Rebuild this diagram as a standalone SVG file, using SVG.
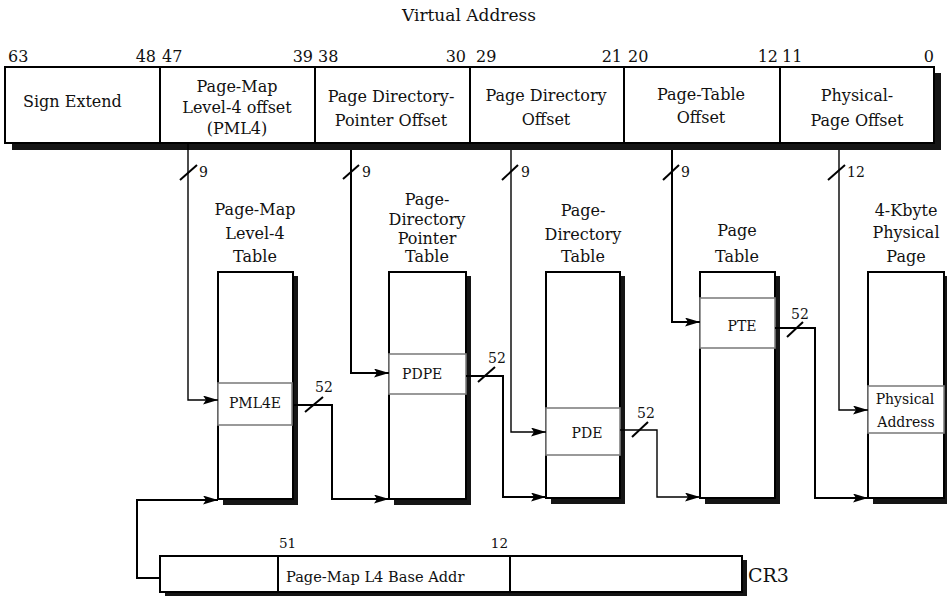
<svg xmlns="http://www.w3.org/2000/svg" width="947" height="596" viewBox="0 0 947 596">
<style>
text{font-family:"DejaVu Serif","Liberation Serif",serif;fill:#111}
.t16{font-size:16px}
.t17{font-size:17px}
.t14{font-size:14px}
.t13{font-size:13.5px}
.t12{font-size:14px}
.mid{text-anchor:middle}
.end{text-anchor:end}
.box{fill:#fff;stroke:#000;stroke-width:2}
.shadow{fill:#151515}
.entry{fill:#fff;stroke:#808080;stroke-width:1.6}
.div{stroke:#000;stroke-width:2}
.thin{fill:none;stroke:#000;stroke-width:1.4}
.thick{fill:none;stroke:#000;stroke-width:2}
.slash{stroke:#000;stroke-width:2}
</style>
<defs>
<marker id="ah" markerUnits="userSpaceOnUse" markerWidth="16" markerHeight="9" refX="15" refY="4.5" orient="auto">
<path d="M0,0 L15,4.5 L0,9 L3,4.5 z" fill="#000"/>
</marker>
</defs>
<rect width="947" height="596" fill="#fff"/>

<text class="t17" x="402" y="21">Virtual Address</text>

<g id="virtual-address">
<rect class="shadow" x="12" y="73" width="929" height="77"/>
<rect class="box" x="5" y="67" width="929" height="76"/>
<line class="div" x1="160" y1="67" x2="160" y2="143"/>
<line class="div" x1="315" y1="67" x2="315" y2="143"/>
<line class="div" x1="470" y1="67" x2="470" y2="143"/>
<line class="div" x1="624" y1="67" x2="624" y2="143"/>
<line class="div" x1="780" y1="67" x2="780" y2="143"/>
<text class="t16" x="8" y="62">63</text>
<text class="t16 end" x="156" y="62">48</text>
<text class="t16" x="162" y="62">47</text>
<text class="t16 end" x="313" y="62">39</text>
<text class="t16" x="318" y="62">38</text>
<text class="t16 end" x="466" y="62">30</text>
<text class="t16" x="476" y="62">29</text>
<text class="t16 end" x="622" y="62">21</text>
<text class="t16" x="628" y="62">20</text>
<text class="t16 end" x="778" y="62">12</text>
<text class="t16" x="782" y="62">11</text>
<text class="t16 end" x="934" y="62">0</text>
<text class="t16" x="23" y="107">Sign Extend</text>
<text class="t16 mid" x="237" y="92">Page-Map</text>
<text class="t16 mid" x="237" y="113">Level-4 offset</text>
<text class="t16 mid" x="237" y="134">(PML4)</text>
<text class="t16 mid" x="391" y="102">Page Directory-</text>
<text class="t16 mid" x="391" y="126">Pointer Offset</text>
<text class="t16 mid" x="546" y="101">Page Directory</text>
<text class="t16 mid" x="546" y="125">Offset</text>
<text class="t16 mid" x="701" y="100">Page-Table</text>
<text class="t16 mid" x="701" y="123">Offset</text>
<text class="t16 mid" x="857" y="101">Physical-</text>
<text class="t16 mid" x="857" y="126">Page Offset</text>
</g>

<g id="pml4-table">
<text class="t16 mid" x="255" y="215">Page-Map</text>
<text class="t16 mid" x="255" y="239">Level-4</text>
<text class="t16 mid" x="255" y="262">Table</text>
<rect class="shadow" x="223" y="276" width="75" height="229"/>
<rect class="box" x="218" y="272" width="75" height="227"/>
<rect class="entry" x="218" y="383" width="74" height="42"/>
<text class="t14 mid" x="255" y="408">PML4E</text>
</g>

<g id="pdp-table">
<text class="t16 mid" x="427" y="205">Page-</text>
<text class="t16 mid" x="427" y="225">Directory</text>
<text class="t16 mid" x="427" y="244">Pointer</text>
<text class="t16 mid" x="427" y="262">Table</text>
<rect class="shadow" x="394" y="276" width="77" height="229"/>
<rect class="box" x="389" y="272" width="77" height="227"/>
<rect class="entry" x="389" y="354" width="77" height="40"/>
<text class="t14" x="402" y="379">PDPE</text>
</g>

<g id="pd-table">
<text class="t16 mid" x="583" y="216">Page-</text>
<text class="t16 mid" x="583" y="240">Directory</text>
<text class="t16 mid" x="583" y="262">Table</text>
<rect class="shadow" x="551" y="276" width="74" height="228"/>
<rect class="box" x="546" y="272" width="74" height="226"/>
<rect class="entry" x="546" y="408" width="74" height="47"/>
<text class="t14 mid" x="587" y="438">PDE</text>
</g>

<g id="page-table">
<text class="t16 mid" x="737" y="236">Page</text>
<text class="t16 mid" x="737" y="262">Table</text>
<rect class="shadow" x="705" y="276" width="75" height="228"/>
<rect class="box" x="700" y="272" width="75" height="226"/>
<rect class="entry" x="700" y="298" width="75" height="50"/>
<text class="t14 mid" x="742" y="331">PTE</text>
</g>

<g id="physical-page">
<text class="t16 mid" x="906" y="216">4-Kbyte</text>
<text class="t16 mid" x="906" y="238">Physical</text>
<text class="t16 mid" x="906" y="262">Page</text>
<rect class="shadow" x="873" y="276" width="76" height="228"/>
<rect class="box" x="868" y="272" width="76" height="226"/>
<rect class="entry" x="868" y="386" width="76" height="47"/>
<text class="t14 mid" x="905" y="404">Physical</text>
<text class="t14 mid" x="906" y="427">Address</text>
</g>

<g id="cr3">
<rect class="shadow" x="165" y="560" width="582" height="36"/>
<rect class="box" x="160" y="556" width="582" height="36"/>
<line class="div" x1="278" y1="556" x2="278" y2="592"/>
<line class="div" x1="510" y1="556" x2="510" y2="592"/>
<text class="t13" x="279" y="548">51</text>
<text class="t13 end" x="508" y="548">12</text>
<text class="t14" x="286" y="582" style="font-size:14.6px">Page-Map L4 Base Addr</text>
<text class="t16" x="748" y="582" style="font-size:19px">CR3</text>
</g>

<g id="connectors">
<polyline class="thin" points="188,143 188,400 218,400" marker-end="url(#ah)"/>
<polyline class="thick" points="351,150 351,373 389,373" marker-end="url(#ah)"/>
<polyline class="thin" points="511,150 511,432 546,432" marker-end="url(#ah)"/>
<polyline class="thick" points="672,150 672,322 700,322" marker-end="url(#ah)"/>
<polyline class="thin" points="839,150 839,410 868,410" marker-end="url(#ah)"/>

<polyline class="thick" points="293,405 332,405 332,499 389,499" marker-end="url(#ah)"/>
<polyline class="thick" points="466,376 503,376 503,497 546,497" marker-end="url(#ah)"/>
<polyline class="thin" points="620,430 657,430 657,497 700,497" marker-end="url(#ah)"/>
<polyline class="thick" points="775,328 815,328 815,498 868,498" marker-end="url(#ah)"/>
<polyline class="thick" points="160,578 137,578 137,500 218,500" marker-end="url(#ah)"/>

<line class="slash" x1="180" y1="180" x2="197" y2="165"/>
<line class="slash" x1="343" y1="179" x2="359" y2="165"/>
<line class="slash" x1="502" y1="180" x2="518" y2="165"/>
<line class="slash" x1="663" y1="180" x2="679" y2="165"/>
<line class="slash" x1="828" y1="180" x2="845" y2="165"/>
<text class="t12" x="199" y="177">9</text>
<text class="t12" x="362" y="177">9</text>
<text class="t12" x="521" y="177">9</text>
<text class="t12" x="681" y="177">9</text>
<text class="t12" x="847" y="177">12</text>

<line class="slash" x1="305" y1="412" x2="323" y2="397"/>
<line class="slash" x1="478" y1="382" x2="495" y2="367"/>
<line class="slash" x1="632" y1="437" x2="648" y2="422"/>
<line class="slash" x1="787" y1="337" x2="803" y2="322"/>
<text class="t12" x="315" y="392">52</text>
<text class="t12" x="488" y="363">52</text>
<text class="t12" x="637" y="418">52</text>
<text class="t12" x="791" y="319">52</text>
</g>
</svg>
